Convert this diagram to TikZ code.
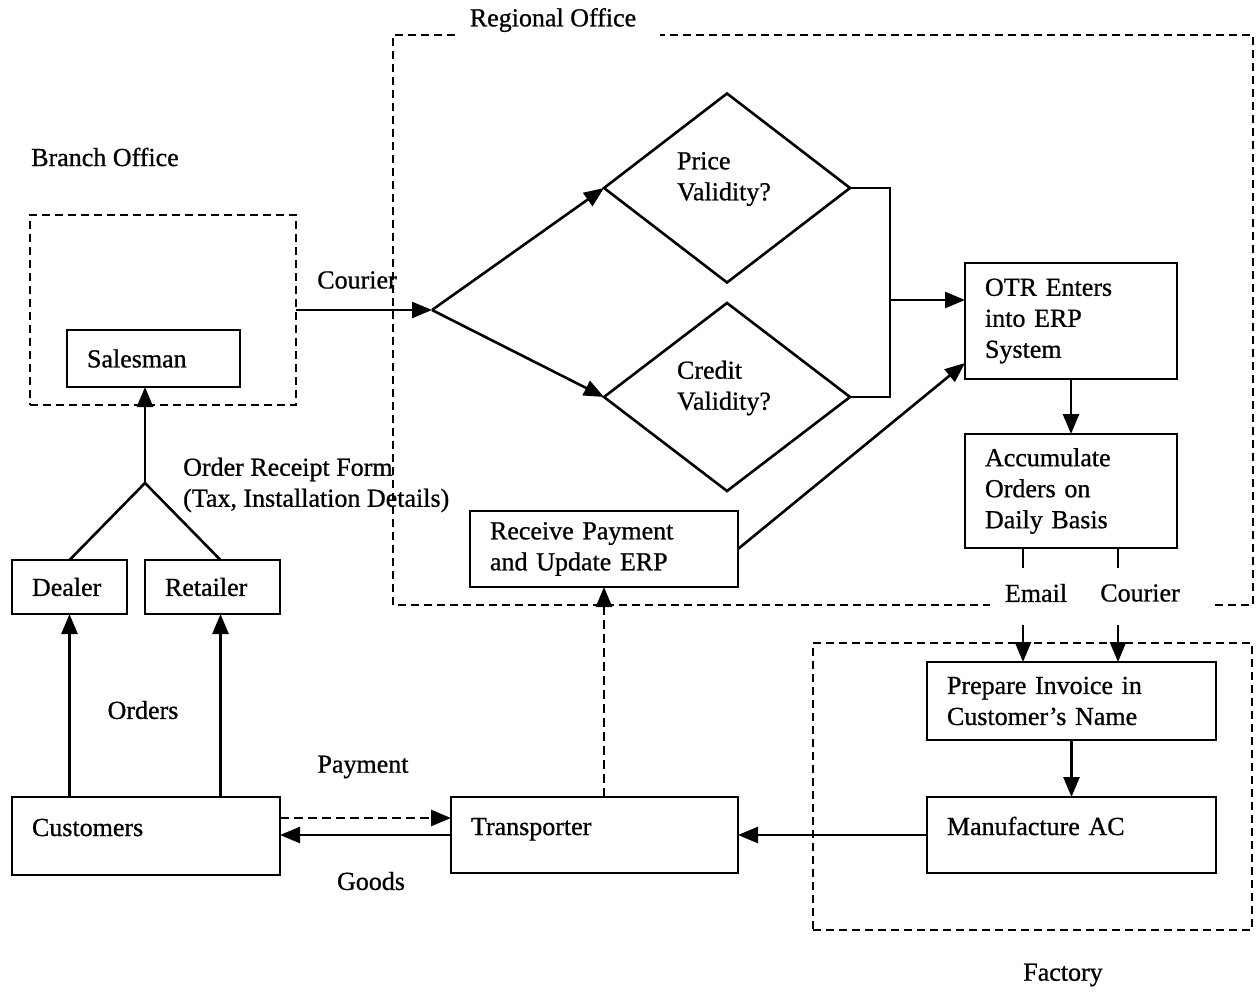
\documentclass[tikz,border=0pt]{standalone}
\usepackage{fontspec}
\setmainfont{Liberation Serif}
\newfontfamily\scanfont[FakeBold=0.8]{Liberation Serif}
\usetikzlibrary{arrows.meta,shapes.geometric,calc}
\begin{document}
\begin{tikzpicture}[x=1pt,y=-1pt,
  txt/.style={font=\scanfont\fontsize{26}{31}\selectfont},
  ln/.style={line width=2.6pt},
  arr/.style={ln,-{Triangle[length=20pt,width=16pt]}},
  dsh/.style={dash pattern=on 9pt off 5pt},
  box/.style={draw,ln,rectangle,anchor=north west,outer sep=0pt,inner xsep=20pt,inner ysep=0pt,align=left,txt},
  up/.style={text height=18pt,text depth=18pt},
  region/.style={draw,line width=2.2pt,dash pattern=on 8pt off 5pt,rectangle,anchor=north west,outer sep=0pt,inner sep=0pt},
  frame/.style={line width=2.2pt,dash pattern=on 8pt off 5pt},
  dec/.style={draw,ln,diamond,inner sep=0pt,outer sep=0pt},
  lbl/.style={txt,inner sep=0pt}]
\useasboundingbox (0,0) rectangle (1256,991);

% regions
\node[region,minimum width=266pt,minimum height=190pt] (branch) at (30,215) {};
\node[region,minimum width=439pt,minimum height=287pt] (factory) at (813,643) {};
\draw[frame] (455,35) -- (393,35) -- (393,605) -- (990,605);
\draw[frame] (1215,605) -- (1253,605) -- (1253,35) -- (660,35);

% boxes
\node[box,minimum width=173pt,text width=133pt,minimum height=57pt] (sales) at (67,330) {Salesman};
\node[box,minimum width=115pt,text width=75pt,minimum height=54pt] (dealer) at (12,560) {Dealer};
\node[box,minimum width=135pt,text width=95pt,minimum height=54pt] (retailer) at (145,560) {Retailer};
\node[box,up,minimum width=268pt,text width=228pt,minimum height=78pt] (cust) at (12,797) {Customers};
\node[box,up,minimum width=287pt,text width=247pt,minimum height=76pt] (trans) at (451,797) {Transporter};
\node[box,minimum width=268pt,text width=228pt,minimum height=76pt] (recv) at (470,511) {Receive Payment\\and Update ERP};
\node[box,minimum width=212pt,text width=172pt,minimum height=116pt] (otr) at (965,263) {OTR Enters\\into ERP\\System};
\node[box,minimum width=212pt,text width=172pt,minimum height=114pt] (acc) at (965,434) {Accumulate\\Orders on\\Daily Basis};
\node[box,minimum width=289pt,text width=249pt,minimum height=78pt] (inv) at (927,662) {Prepare Invoice in\\Customer’s Name};
\node[box,up,minimum width=289pt,text width=249pt,minimum height=76pt] (mfg) at (927,797) {Manufacture AC};

% decisions
\node[dec,minimum width=246pt,minimum height=189pt] (price) at (727,188) {};
\node[dec,minimum width=246pt,minimum height=188pt] (credit) at (727,397) {};
\node[lbl,align=left] (pricet) at (724,179) {Price\\Validity?};
\node[lbl,align=left] (creditt) at (724,388) {Credit\\Validity?};

% labels
\node[lbl] (branchlbl) at (105,157) {Branch Office};
\node[lbl] (regionlbl) at (553,20) {Regional Office};
\node[lbl] (factorylbl) at (1063,975) {Factory};
\node[lbl] (courierlbl) at (357,280) {Courier};
\node[lbl] (paylbl) at (363,767) {Payment};
\node[lbl] (goodslbl) at (371,881) {Goods};
\node[lbl] (orderslbl) at (143,710) {Orders};
\node[lbl,anchor=west,align=left] (orflbl) at (183,485) {Order Receipt Form\\(Tax, Installation Details)};
\node[lbl] (email) at (1036,593) {Email};
\node[lbl] (courier2) at (1140,593) {Courier};

% connectors
\coordinate (apex) at (432,310);
\draw[arr] (branch.east) -- (apex);
\draw[arr] (apex) -- (price.west);
\draw[arr] (apex) -- (credit.west);
\coordinate (mrg) at (890,300);
\draw[ln] (price.east) -| (mrg);
\draw[ln] (credit.east) -| (mrg);
\draw[arr] (mrg) -- (mrg -| otr.west);
\draw[arr] (recv.east) -- ($(otr.south west)+(0,-16)$);
\draw[arr] (otr.south) -- (acc.north);
\draw[ln] ($(acc.south)+(-48,0)$) -- ++(0,20);
\draw[ln] ($(acc.south)+(47,0)$) -- ++(0,20);
\coordinate (e1) at (1023,625);
\coordinate (c1) at (1118,625);
\draw[arr] (e1) -- (e1 |- inv.north);
\draw[arr] (c1) -- (c1 |- inv.north);
\draw[arr] (inv.south) -- (mfg.north);
\draw[arr] (mfg.west) -- (trans.east);
\draw[arr,dsh] (recv.south |- trans.north) -- (recv.south);
\draw[arr,dsh] ($(cust.east)+(0,-18)$) -- ($(trans.west)+(0,-17)$);
\draw[arr] (trans.west) -- (trans.west -| cust.east);
\draw[arr] (cust.north -| dealer.south) -- (dealer.south);
\draw[arr] ($(cust.north -| retailer.south)+(8,0)$) -- ($(retailer.south)+(8,0)$);
\coordinate (jn) at (145,483);
\draw[ln] (dealer.north) -- (jn);
\draw[ln] ($(retailer.north)+(8,0)$) -- (jn);
\draw[arr] (jn) -- (jn |- sales.south);
\end{tikzpicture}
\end{document}
